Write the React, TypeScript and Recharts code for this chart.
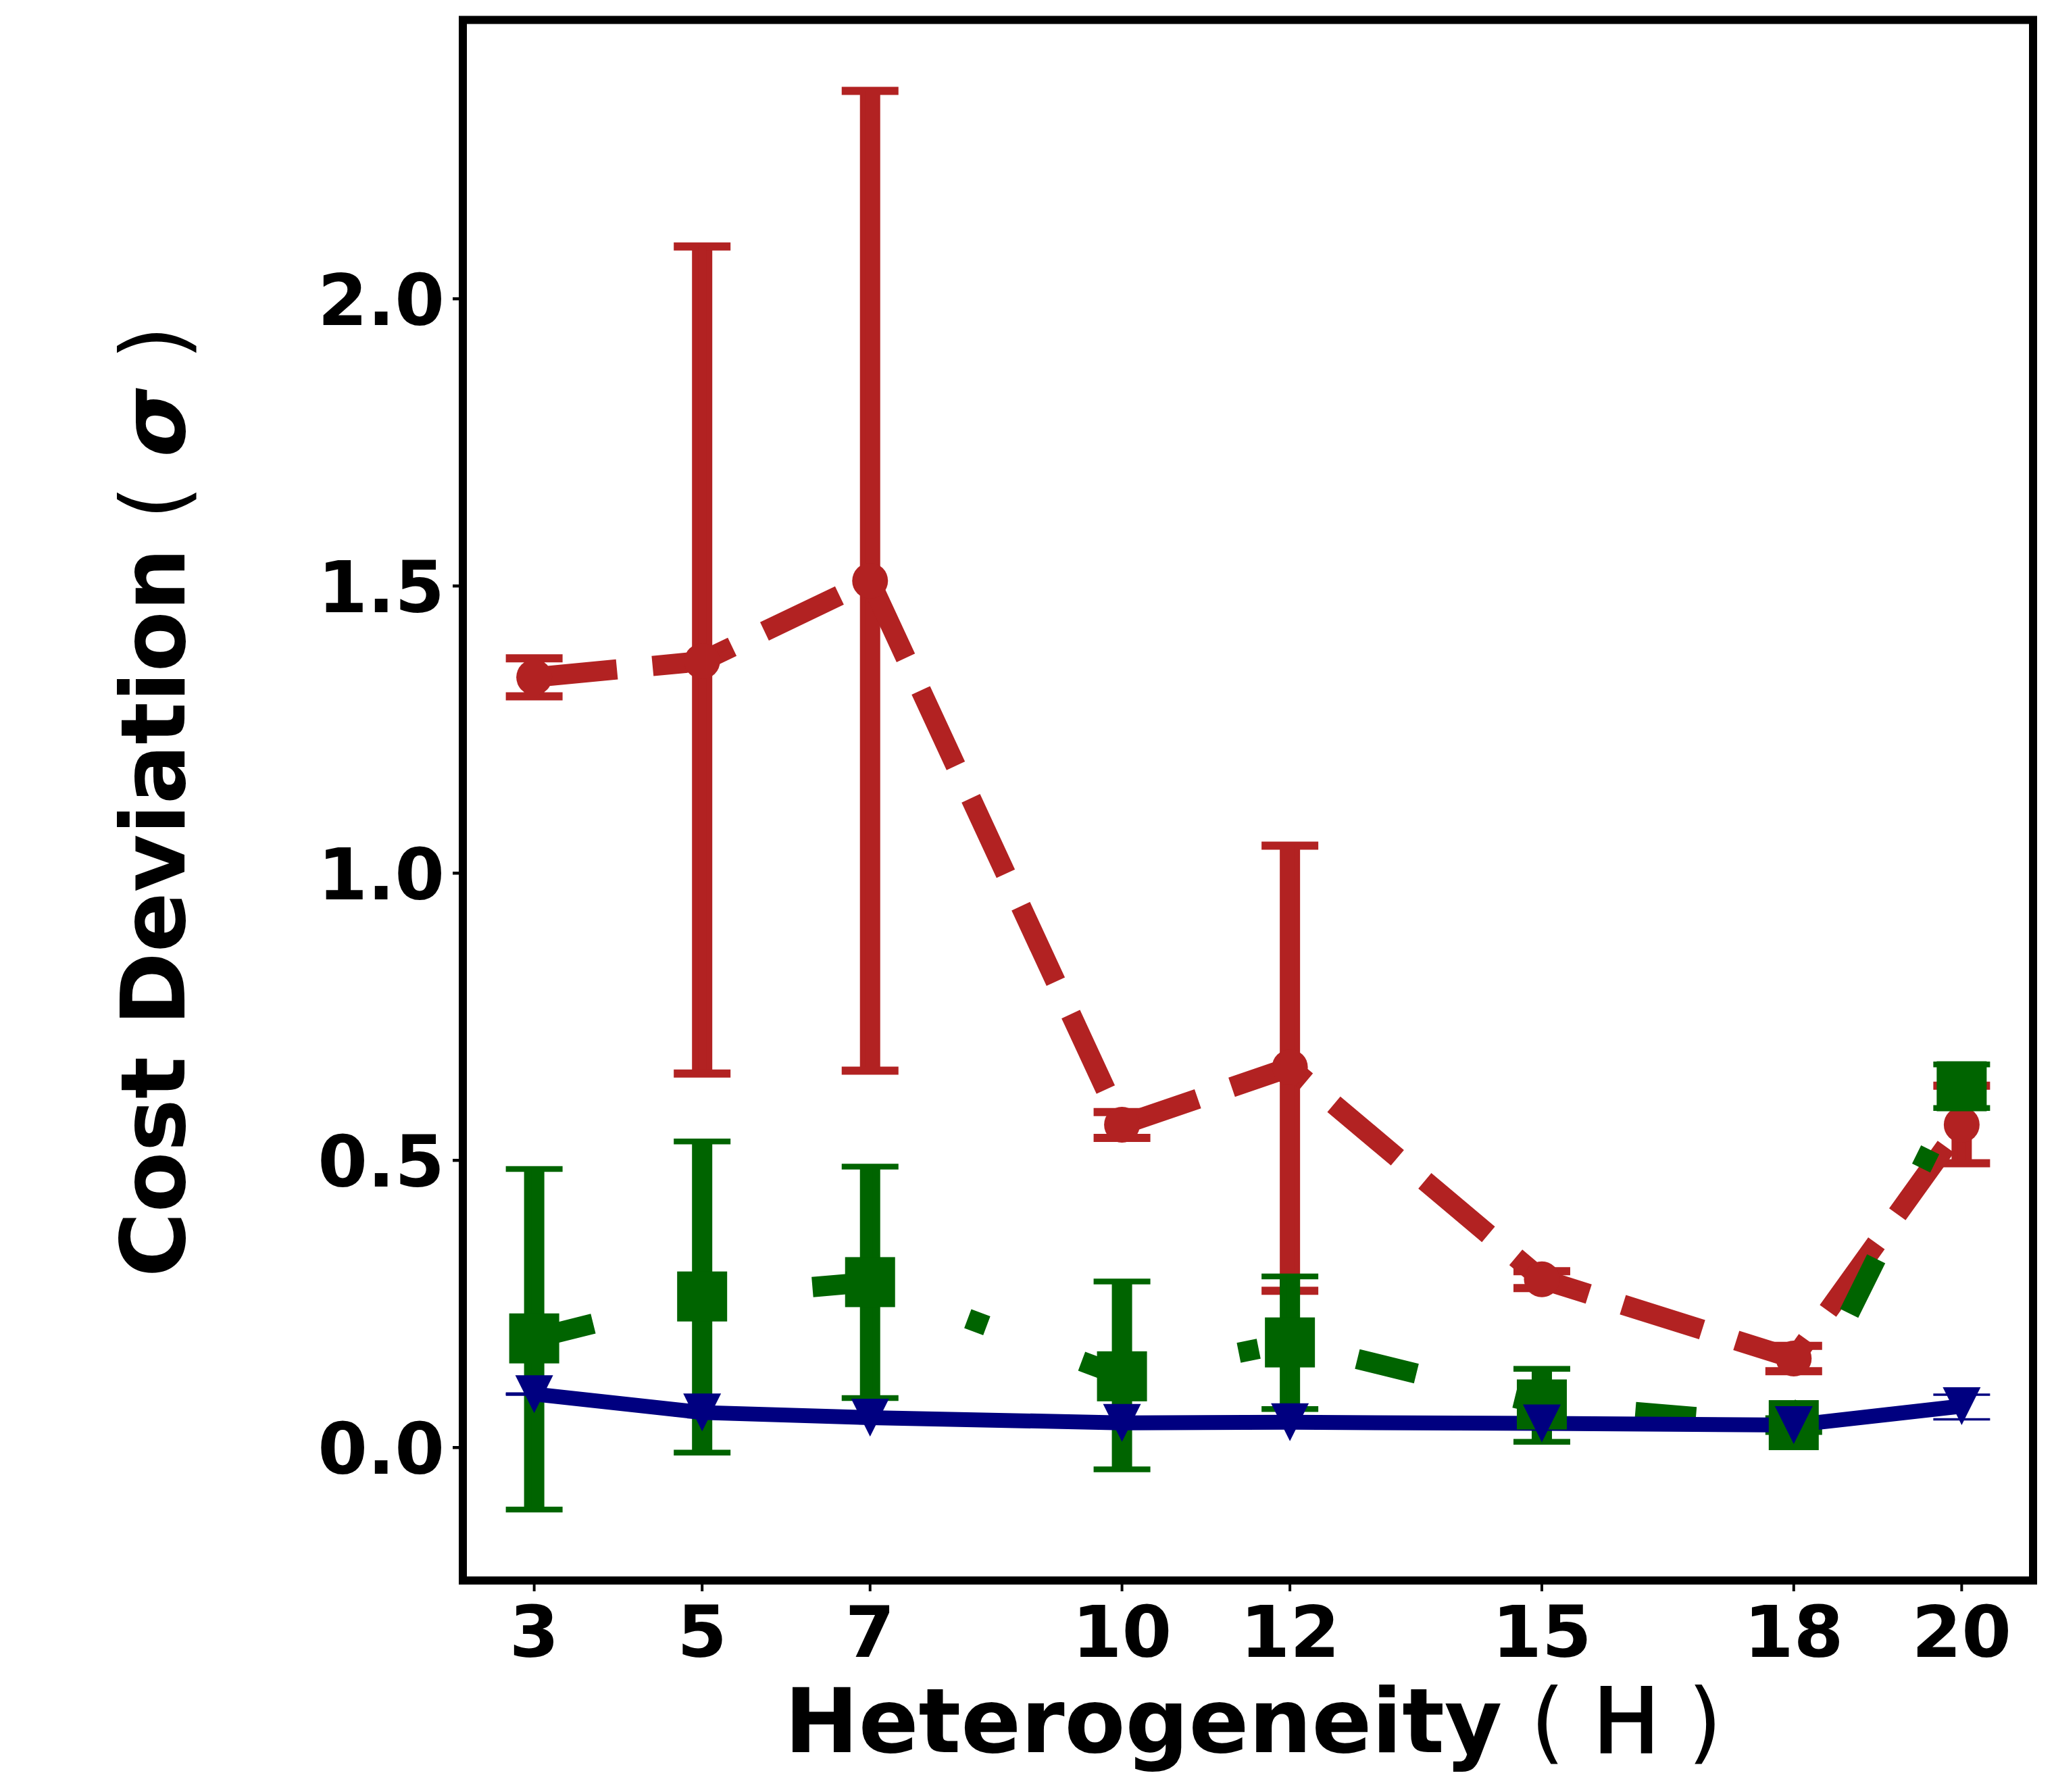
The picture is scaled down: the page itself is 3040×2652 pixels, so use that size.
import React from 'react'
import {
  ComposedChart, Line, XAxis, YAxis, ErrorBar, ReferenceArea, Label,
} from 'recharts'

const RED   = '#b22222'
const GREEN = '#006400'
const NAVY  = '#000080'
const FONT  = '"DejaVu Sans", sans-serif'

// ── data ────────────────────────────────────────────────────────────────────
const H_VALUES = [3, 5, 7, 10, 12, 15, 18, 20]
const X_TICKS = [3, 5, 7, 10, 12, 15, 18, 20]
const Y_TICKS = [0, 0.5, 1.0, 1.5, 2.0]

const redMean = [1.341, 1.369, 1.509, 0.562, 0.662, 0.293, 0.155, 0.562]
const redLow  = [1.308, 0.651, 0.656, 0.539, 0.273, 0.2775, 0.133, 0.495]
const redHigh = [1.374, 2.091, 2.362, 0.584, 1.048, 0.307, 0.177, 0.630]

const greenMean = [0.190, 0.263, 0.288, 0.124, 0.183, 0.075, 0.039, 0.629]
const greenLow  = [-0.108, -0.009, 0.086, -0.038, 0.067, 0.010, 0.027, 0.591]
const greenHigh = [0.485, 0.533, 0.489, 0.289, 0.298, 0.137, 0.051, 0.667]

const blueMean = [0.093, 0.061, 0.052, 0.043, 0.044, 0.042, 0.039, 0.072]
const blueLow  = [0.092, 0.056, 0.047, 0.038, 0.039, 0.037, 0.034, 0.049]
const blueHigh = [0.094, 0.066, 0.057, 0.048, 0.049, 0.047, 0.044, 0.092]

const X_DOMAIN: [number, number] = [2.15, 20.85]
const Y_DOMAIN: [number, number] = [-0.2315, 2.4855]

const rows = H_VALUES.map((h, i) => ({
  h,
  red: redMean[i],
  redErr: [redMean[i] - redLow[i], redHigh[i] - redMean[i]],
  green: greenMean[i],
  greenErr: [greenMean[i] - greenLow[i], greenHigh[i] - greenMean[i]],
  blue: blueMean[i],
  blueErr: [blueMean[i] - blueLow[i], blueHigh[i] - blueMean[i]],
}))

// ── layout ──────────────────────────────────────────────────────────────────
const W = 3040
const HGT = 2652
const PLOT = { left: 685, top: 29.5, right: 3009, bottom: 2339 }

// ── markers ─────────────────────────────────────────────────────────────────
function CircleDot(p: any) {
  if (p.cx == null) return <g key={p.key} />
  return <circle key={p.key} cx={p.cx} cy={p.cy} r={26.5} fill={RED} />
}
function SquareDot(p: any) {
  if (p.cx == null) return <g key={p.key} />
  return <rect key={p.key} x={p.cx - 37} y={p.cy - 37} width={74} height={74} fill={GREEN} />
}
function TriDot(p: any) {
  if (p.cx == null) return <g key={p.key} />
  const s = 28
  return <path key={p.key} d={`M${p.cx - s},${p.cy - s}L${p.cx + s},${p.cy - s}L${p.cx},${p.cy + s}Z`} fill={NAVY} />
}

// ── ticks ───────────────────────────────────────────────────────────────────
function XTick(p: any) {
  return (
    <text x={p.x} y={PLOT.bottom + 113} textAnchor="middle"
      style={{ fontFamily: FONT, fontSize: 106, fontWeight: 700, fill: '#000' }}>
      {p.payload.value}
    </text>
  )
}
function YTick(p: any) {
  return (
    <text x={PLOT.left - 27} y={p.y} dy="0.365em" textAnchor="end"
      style={{ fontFamily: FONT, fontSize: 106, fontWeight: 700, fill: '#000' }}>
      {Number(p.payload.value).toFixed(1)}
    </text>
  )
}

const TITLE = { fontFamily: FONT, fontSize: 131, fontWeight: 700, fill: '#000', whiteSpace: 'pre' as const }

function XTitle() {
  return (
    <text x={1855} y={2593} textAnchor="middle" style={TITLE}>
      Heterogeneity<tspan fontWeight={400}>{' ( '}</tspan>
      <tspan fontWeight={400} stroke="#000" strokeWidth={3.5}>H</tspan>
      <tspan fontWeight={400}>{' )'}</tspan>
    </text>
  )
}
function YTitle() {
  return (
    <text x={273} y={1186} textAnchor="middle" transform="rotate(-90, 273, 1186)" style={TITLE}>
      Cost Deviation<tspan fontWeight={400}>{' ( '}</tspan>
      <tspan fontStyle="italic">σ</tspan>
      <tspan fontWeight={400}>{' )'}</tspan>
    </text>
  )
}

export default function App() {
  return (
    <div style={{ position: 'absolute', left: 0, top: 0, width: W, height: HGT, background: '#fff' }}>
      <ComposedChart
        width={W}
        height={HGT}
        data={rows}
        margin={{ top: PLOT.top, right: W - PLOT.right, left: 0, bottom: 0 }}
      >
        <XAxis
          dataKey="h"
          type="number"
          domain={X_DOMAIN}
          allowDataOverflow
          ticks={X_TICKS}
          height={HGT - PLOT.bottom}
          axisLine={false}
          tickSize={16}
          tickLine={{ stroke: '#000', strokeWidth: 4 }}
          tick={<XTick />}
          interval={0}
        >
          <Label content={<XTitle />} />
        </XAxis>
        <YAxis
          type="number"
          domain={Y_DOMAIN}
          allowDataOverflow
          ticks={Y_TICKS}
          width={PLOT.left}
          axisLine={false}
          tickSize={15}
          tickLine={{ stroke: '#000', strokeWidth: 4.5 }}
          tick={<YTick />}
          interval={0}
        >
          <Label content={<YTitle />} />
        </YAxis>

        <Line dataKey="red" type="linear" stroke={RED} strokeWidth={30}
          strokeDasharray="123 53" dot={CircleDot} activeDot={false}
          isAnimationActive={false}>
          <ErrorBar dataKey="redErr" direction="y" width={0} stroke={RED} strokeWidth={30} isAnimationActive={false} />
          <ErrorBar dataKey="redErr" direction="y" width={42} stroke={RED} strokeWidth={12} isAnimationActive={false} />
        </Line>

        <Line dataKey="green" type="linear" stroke={GREEN} strokeWidth={30}
          strokeDasharray="90 150 30 150" dot={SquareDot} activeDot={false}
          isAnimationActive={false}>
          <ErrorBar dataKey="greenErr" direction="y" width={0} stroke={GREEN} strokeWidth={30} isAnimationActive={false} />
          <ErrorBar dataKey="greenErr" direction="y" width={42} stroke={GREEN} strokeWidth={8.5} isAnimationActive={false} />
        </Line>

        <Line dataKey="blue" type="linear" stroke={NAVY} strokeWidth={22}
          dot={TriDot} activeDot={false} isAnimationActive={false}>
          <ErrorBar dataKey="blueErr" direction="y" width={42} stroke={NAVY} strokeWidth={3.5} isAnimationActive={false} />
        </Line>

        <ReferenceArea x1={X_DOMAIN[0]} x2={X_DOMAIN[1]} y1={Y_DOMAIN[0]} y2={Y_DOMAIN[1]}
          fill="none" stroke="#000" strokeWidth={12} ifOverflow="visible" />
      </ComposedChart>
    </div>
  )
}
